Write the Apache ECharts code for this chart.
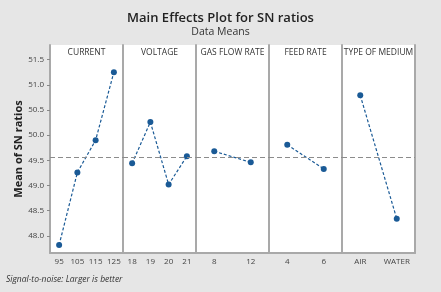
<!DOCTYPE html>
<html>
<head>
<meta charset="utf-8">
<script src="https://cdn.jsdelivr.net/npm/echarts@6/dist/echarts.min.js"></script>
<style>
  html, body { margin: 0; padding: 0; background: #e6e6e6; }
  #main { width: 441px; height: 292px; }
</style>
</head>
<body>
<div id="main"></div>
<script>
// 各因子水平
var factors = ['CURRENT', 'VOLTAGE', 'GAS FLOW RATE', 'FEED RATE', 'TYPE OF MEDIUM'];
var currentLevels = ['95', '105', '115', '125'];
var voltageLevels = ['18', '19', '20', '21'];
var gasLevels = ['8', '12'];
var feedLevels = ['4', '6'];
var mediumLevels = ['AIR', 'WATER'];

// SN比均值
var currentSN = [47.82, 49.26, 49.90, 51.25];
var voltageSN = [49.44, 50.26, 49.02, 49.58];
var gasSN = [49.68, 49.46];
var feedSN = [49.81, 49.33];
var mediumSN = [50.79, 48.34];

var overallMean = 49.57;
var yTicks = [48.0, 48.5, 49.0, 49.5, 50.0, 50.5, 51.0, 51.5];

var levels = [currentLevels, voltageLevels, gasLevels, feedLevels, mediumLevels];
var values = [currentSN, voltageSN, gasSN, feedSN, mediumSN];

var myChart = echarts.init(document.getElementById('main'));
var font = 'Open Sans';
var panelW = 73, plotLeft = 50, plotTop = 45, plotH = 208;
var lineGray = '#a9a9a9';
var blue = '#1a5a96';

var grids = [], xAxes = [], yAxes = [], series = [], graphics = [];
for (var i = 0; i < factors.length; i++) {
  grids.push({
    left: plotLeft + panelW * i, top: plotTop, width: panelW, height: plotH,
    show: true, backgroundColor: '#fff', borderWidth: 0
  });
  xAxes.push({
    type: 'category', gridIndex: i, data: levels[i], boundaryGap: true,
    axisLine: { lineStyle: { color: lineGray, width: 2 } },
    axisTick: { alignWithLabel: true, length: 3, lineStyle: { color: '#888' } },
    axisLabel: { fontSize: 8, color: '#444', fontFamily: font, margin: 5 },
    splitLine: { show: false }
  });
  yAxes.push({
    type: 'value', gridIndex: i, min: 47.66, max: 51.79,
    axisLine: { show: true, lineStyle: { color: lineGray, width: 2 } },
    axisTick: { show: i === 0, length: 3, customValues: yTicks, lineStyle: { color: '#888' } },
    axisLabel: {
      show: i === 0, fontSize: 8, color: '#444', fontFamily: font, margin: 6,
      customValues: yTicks,
      formatter: function (v) { return v.toFixed(1); }
    },
    splitLine: { show: false },
    name: i === 0 ? 'Mean of SN ratios' : '',
    nameLocation: 'middle', nameGap: 23, nameRotate: 90,
    nameTextStyle: { fontSize: 11, color: '#222', fontFamily: font, fontWeight: 'bold' }
  });
  series.push({
    type: 'line', xAxisIndex: i, yAxisIndex: i, data: values[i],
    symbol: 'circle', symbolSize: 6,
    itemStyle: { color: blue },
    lineStyle: { color: blue, width: 1.2, type: [3, 2] },
    markLine: {
      silent: true, symbol: 'none', label: { show: false },
      lineStyle: { color: '#8c8c8c', type: [5, 3], width: 1 },
      data: [{ yAxis: overallMean }]
    }
  });
  graphics.push({
    type: 'text', x: plotLeft + panelW * i + panelW / 2, y: plotTop + 3,
    style: { text: factors[i], align: 'center', fontSize: 8.5, fill: '#333', fontFamily: font }
  });
}
// 最右侧边框
yAxes.push({
  type: 'value', gridIndex: 4, position: 'right', min: 47.66, max: 51.79,
  axisLine: { show: true, lineStyle: { color: lineGray, width: 2 } },
  axisTick: { show: false }, axisLabel: { show: false }, splitLine: { show: false }
});

graphics.push({
  type: 'text', x: 6, y: 275,
  style: { text: 'Signal-to-noise: Larger is better', fontSize: 8.5, fontStyle: 'italic', fill: '#333', fontFamily: font }
});

var option = {
  backgroundColor: '#e6e6e6',
  animation: false,
  title: {
    text: 'Main Effects Plot for SN ratios',
    subtext: 'Data Means',
    left: 'center', top: 7, itemGap: 2,
    textStyle: { fontSize: 13, fontWeight: 600, color: '#222', fontFamily: font },
    subtextStyle: { fontSize: 10.5, color: '#333', fontFamily: font }
  },
  grid: grids,
  xAxis: xAxes,
  yAxis: yAxes,
  series: series,
  graphic: graphics
};
myChart.setOption(option);
</script>
</body>
</html>
